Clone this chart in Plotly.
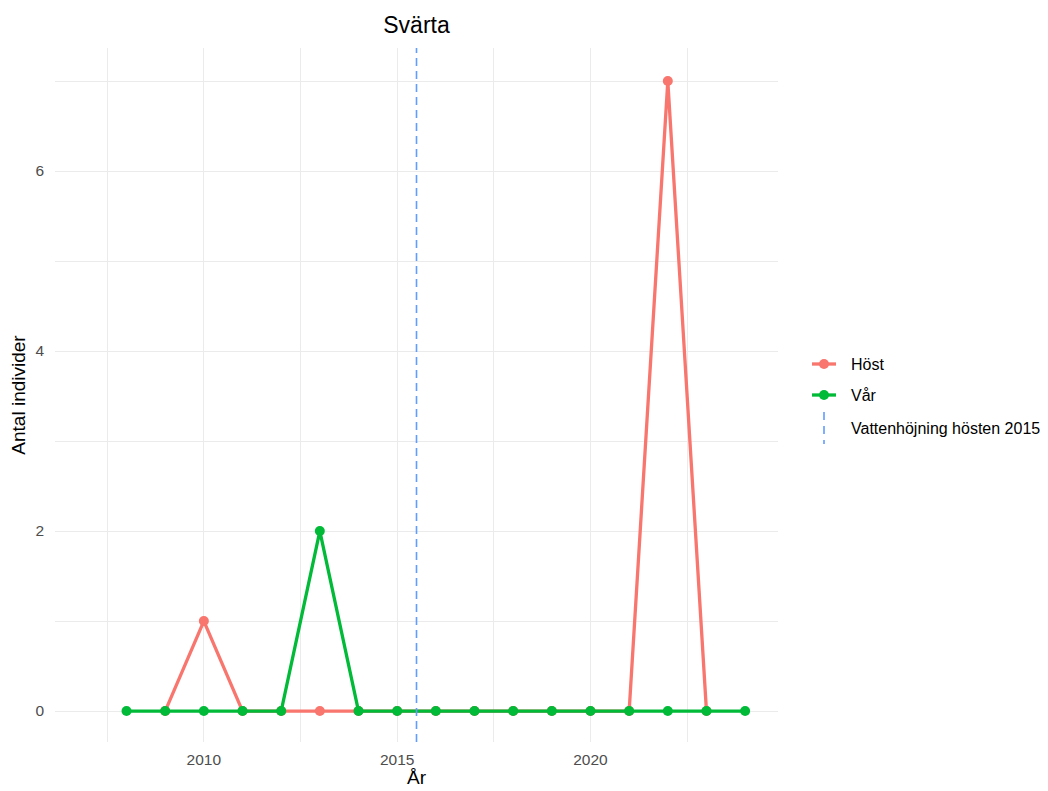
import plotly.graph_objects as go

# Counts per season and year
host_years = list(range(2009, 2024))
host_counts = [0, 1, 0, 0, 0, 0, 0, 0, 0, 0, 0, 0, 0, 7, 0]

var_years = list(range(2008, 2025))
var_counts = [0, 0, 0, 0, 0, 2, 0, 0, 0, 0, 0, 0, 0, 0, 0, 0, 0]

event_year = 2015.5
event_label = "Vattenhöjning hösten 2015"

x_ticks = [2010, 2015, 2020]
y_ticks = [0, 2, 4, 6]

RED = "#F8766D"
GREEN = "#00BA38"
BLUE = "#619CFF"
GRID = "#EBEBEB"
FONT = "Liberation Sans, Arial, sans-serif"

W, H = 1048, 791
L, R, T, B = 55, 270, 48, 49
PW, PH = W - L - R, H - T - B


def px(xp):
    return (xp - L) / PW


def py(yp):
    return (H - B - yp) / PH


fig = go.Figure()

fig.add_trace(go.Scatter(
    x=host_years, y=host_counts, mode="lines+markers", name="Höst",
    line=dict(color=RED, width=3.3), marker=dict(color=RED, size=10),
    showlegend=False,
))
fig.add_trace(go.Scatter(
    x=var_years, y=var_counts, mode="lines+markers", name="Vår",
    line=dict(color=GREEN, width=3.3), marker=dict(color=GREEN, size=10),
    showlegend=False,
))

# Dashed vertical line marking the water-level raise
fig.add_shape(type="line", xref="x", yref="paper", x0=event_year, x1=event_year,
              y0=0, y1=1, line=dict(color=BLUE, width=1.6, dash="8px,5px"),
              layer="above")

shapes = []
annotations = []

# Legend drawn at the right of the panel
leg_x0, leg_x1, leg_tx = 812, 836, 849
for yp, col, lab in [(364, RED, "Höst"), (395, GREEN, "Vår")]:
    shapes.append(dict(type="line", xref="paper", yref="paper",
                       x0=px(leg_x0), x1=px(leg_x1), y0=py(yp), y1=py(yp),
                       line=dict(color=col, width=3.3)))
    shapes.append(dict(type="circle", xref="paper", yref="paper",
                       x0=px(824 - 5), x1=px(824 + 5), y0=py(yp - 5), y1=py(yp + 5),
                       fillcolor=col, line=dict(color=col, width=0)))
    annotations.append(dict(text=lab, xref="paper", yref="paper", x=px(leg_tx), y=py(yp),
                            xanchor="left", yanchor="middle", showarrow=False,
                            font=dict(family=FONT, size=16, color="#000000")))
shapes.append(dict(type="line", xref="paper", yref="paper",
                   x0=px(824), x1=px(824), y0=py(412), y1=py(444),
                   line=dict(color=BLUE, width=1.6, dash="8px,6px")))
annotations.append(dict(text=event_label, xref="paper", yref="paper", x=px(leg_tx), y=py(428),
                        xanchor="left", yanchor="middle", showarrow=False,
                        font=dict(family=FONT, size=16, color="#000000")))

for s in shapes:
    fig.add_shape(**s)

fig.update_layout(
    width=W, height=H,
    margin=dict(l=L, r=R, t=T, b=B, autoexpand=False),
    paper_bgcolor="white", plot_bgcolor="white",
    font=dict(family=FONT),
    title=dict(text="Svärta", x=px(416.5), xref="paper", xanchor="center",
               y=1 - 25 / H, yanchor="middle",
               font=dict(family=FONT, size=23, color="#000000")),
    annotations=annotations,
    showlegend=False,
)

fig.update_xaxes(
    range=[2006.15, 2024.85], tickvals=x_ticks, ticktext=[str(v) for v in x_ticks],
    showgrid=True, gridcolor=GRID, gridwidth=1.1, zeroline=False, showline=False,
    ticks="", ticklabelstandoff=6,
    tickfont=dict(family=FONT, size=15.5, color="#4D4D4D"),
    minor=dict(tickvals=[2007.5, 2012.5, 2017.5, 2022.5], showgrid=True,
               gridcolor=GRID, gridwidth=0.7),
    title=dict(text="År", standoff=3, font=dict(family=FONT, size=19, color="#000000")),
    automargin=False,
)
fig.update_yaxes(
    range=[-0.344, 7.367], tickvals=y_ticks, ticktext=[str(v) for v in y_ticks],
    showgrid=True, gridcolor=GRID, gridwidth=1.1, zeroline=False, showline=False,
    ticks="", ticklabelstandoff=10,
    tickfont=dict(family=FONT, size=15.5, color="#4D4D4D"),
    minor=dict(tickvals=[1, 3, 5, 7], showgrid=True, gridcolor=GRID, gridwidth=0.7),
    title=dict(text="Antal individer", standoff=4,
               font=dict(family=FONT, size=19, color="#000000")),
    automargin=False,
)

fig.write_html("out.html")
